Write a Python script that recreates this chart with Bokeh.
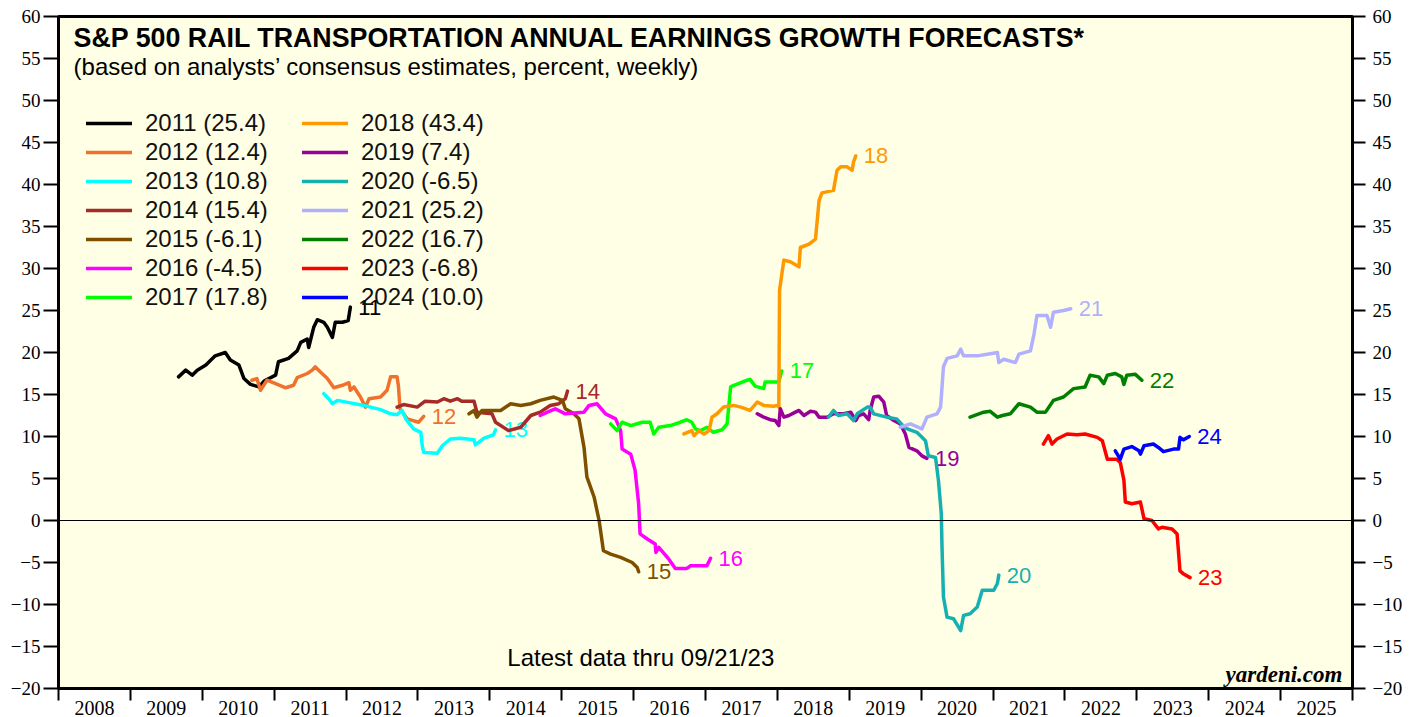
from bokeh.plotting import figure
from bokeh.models import (FixedTicker, CustomJSTickFormatter, Span, Label, Legend,
                          LegendItem, Range1d, LinearAxis)
from bokeh.core.properties import value
from bokeh.embed import file_html
from bokeh.resources import INLINE

# ---------------- data (decimal year, forecast growth %) ----------------
f2011_x = [2009.67, 2009.77, 2009.86, 2009.93, 2010.05, 2010.18, 2010.32, 2010.39, 2010.51, 2010.58,
           2010.67, 2010.79, 2010.86, 2011.02, 2011.06, 2011.20, 2011.32, 2011.37, 2011.46, 2011.48,
           2011.55, 2011.60, 2011.69, 2011.74, 2011.81, 2011.85, 2011.95, 2012.03, 2012.06]
f2011_y = [17.1, 17.9, 17.3, 17.9, 18.5, 19.6, 20.0, 19.1, 18.5, 16.9,
           16.2, 15.9, 16.6, 17.3, 18.9, 19.3, 20.2, 21.2, 21.6, 20.6,
           23.0, 23.9, 23.6, 23.0, 21.8, 23.6, 23.6, 23.8, 25.4]

f2012_x = [2010.69, 2010.76, 2010.81, 2010.90, 2011.02, 2011.16, 2011.27, 2011.32, 2011.46, 2011.53,
           2011.57, 2011.64, 2011.74, 2011.83, 2011.95, 2012.04, 2012.06, 2012.11, 2012.20, 2012.27,
           2012.32, 2012.48, 2012.57, 2012.62, 2012.71, 2012.73, 2012.75, 2012.85, 2013.01, 2013.08]
f2012_y = [16.7, 16.9, 15.5, 16.7, 16.3, 15.8, 16.1, 17.0, 17.5, 17.9,
           18.3, 17.7, 16.9, 15.8, 16.1, 16.4, 15.5, 15.9, 14.7, 13.5,
           14.5, 14.7, 15.5, 17.1, 17.1, 15.9, 13.3, 12.1, 11.7, 12.4]

f2013_x = [2011.69, 2011.76, 2011.81, 2011.88, 2012.06, 2012.25, 2012.34, 2012.48, 2012.62, 2012.71,
           2012.78, 2012.83, 2012.94, 2013.04, 2013.06, 2013.08, 2013.27, 2013.34, 2013.45, 2013.59,
           2013.78, 2013.80, 2013.92, 2014.05, 2014.08]
f2013_y = [15.1, 14.5, 13.9, 14.3, 14.0, 13.7, 13.5, 13.2, 12.7, 12.6,
           13.1, 12.1, 10.9, 10.5, 8.9, 8.1, 8.0, 8.9, 9.7, 9.8,
           9.6, 9.0, 9.8, 10.2, 10.8]

f2014_x = [2012.71, 2012.80, 2012.99, 2013.10, 2013.27, 2013.36, 2013.45, 2013.55, 2013.61, 2013.78,
           2013.82, 2014.03, 2014.08, 2014.26, 2014.43, 2014.57, 2014.70, 2014.84, 2014.96, 2015.05,
           2015.08]
f2014_y = [13.5, 13.8, 13.5, 14.2, 14.1, 14.5, 14.2, 14.5, 14.2, 14.2,
           12.9, 12.7, 11.7, 10.7, 11.1, 12.5, 12.9, 13.7, 13.9, 14.5,
           15.4]

f2015_x = [2013.71, 2013.78, 2013.82, 2013.89, 2014.05, 2014.15, 2014.29, 2014.43, 2014.57, 2014.70,
           2014.89, 2015.01, 2015.05, 2015.17, 2015.24, 2015.31, 2015.35, 2015.45, 2015.52, 2015.58,
           2015.68, 2015.82, 2015.98, 2016.05, 2016.07]
f2015_y = [12.7, 13.1, 12.3, 13.1, 13.1, 13.1, 13.9, 13.7, 13.9, 14.3,
           14.7, 14.3, 13.3, 12.7, 12.1, 8.7, 5.2, 2.8, 0.0, -3.6,
           -4.0, -4.4, -5.0, -5.6, -6.1]

f2016_x = [2014.70, 2014.80, 2014.91, 2015.05, 2015.17, 2015.31, 2015.38, 2015.49, 2015.61, 2015.75,
           2015.82, 2015.84, 2015.96, 2016.02, 2016.07, 2016.09, 2016.19, 2016.30, 2016.31, 2016.35,
           2016.49, 2016.58, 2016.74, 2016.79, 2017.02, 2017.07]
f2016_y = [12.5, 12.9, 13.3, 12.7, 12.8, 12.9, 13.7, 13.9, 12.7, 12.1,
           10.7, 8.5, 7.9, 6.0, 2.0, -1.6, -2.2, -2.8, -3.8, -3.2,
           -4.6, -5.7, -5.7, -5.4, -5.4, -4.5]

f2017_x = [2015.68, 2015.77, 2015.84, 2015.96, 2016.12, 2016.23, 2016.28, 2016.35, 2016.51, 2016.65,
           2016.74, 2016.81, 2016.86, 2016.93, 2017.02, 2017.11, 2017.23, 2017.30, 2017.35, 2017.37,
           2017.58, 2017.62, 2017.69, 2017.81, 2017.83, 2018.02, 2018.06]
f2017_y = [11.5, 10.7, 11.7, 11.3, 11.7, 11.7, 10.3, 11.1, 11.3, 11.7,
           12.0, 11.7, 10.9, 10.7, 11.1, 10.5, 10.8, 11.5, 15.9, 16.0,
           16.7, 16.8, 16.0, 15.7, 16.5, 16.5, 17.8]

f2018_x = [2016.70, 2016.81, 2016.84, 2016.91, 2016.98, 2017.05, 2017.09, 2017.16, 2017.25, 2017.39,
           2017.49, 2017.62, 2017.72, 2017.81, 2017.95, 2018.00, 2018.02, 2018.03, 2018.09, 2018.18,
           2018.30, 2018.32, 2018.44, 2018.53, 2018.58, 2018.62, 2018.78, 2018.83, 2018.88, 2018.97,
           2019.04, 2019.06, 2019.09]
f2018_y = [10.3, 10.7, 10.1, 10.7, 10.3, 10.7, 12.3, 12.7, 13.5, 13.7,
           13.5, 13.1, 14.1, 13.7, 13.6, 13.7, 13.5, 27.4, 31.0, 30.8,
           30.2, 32.5, 32.9, 33.5, 38.1, 39.0, 39.3, 41.7, 42.1, 42.1,
           41.7, 42.7, 43.4]

f2019_x = [2017.72, 2017.81, 2017.90, 2017.97, 2018.02, 2018.04, 2018.09, 2018.16, 2018.25, 2018.30,
           2018.37, 2018.46, 2018.53, 2018.58, 2018.69, 2018.78, 2018.92, 2019.02, 2019.09, 2019.13,
           2019.20, 2019.27, 2019.29, 2019.34, 2019.41, 2019.48, 2019.52, 2019.62, 2019.71, 2019.78,
           2019.83, 2019.94, 2020.01, 2020.08]
f2019_y = [12.7, 12.3, 12.0, 11.9, 11.3, 13.3, 12.3, 12.5, 12.9, 13.1,
           12.5, 13.0, 12.9, 12.3, 12.3, 12.7, 12.7, 12.9, 11.9, 12.5,
           12.7, 12.0, 13.1, 14.7, 14.8, 14.1, 12.5, 11.9, 11.5, 10.3,
           8.7, 8.3, 7.7, 7.4]

f2020_x = [2018.71, 2018.78, 2018.85, 2018.97, 2019.06, 2019.11, 2019.25, 2019.29, 2019.34, 2019.52,
           2019.66, 2019.78, 2019.94, 2020.06, 2020.10, 2020.20, 2020.24, 2020.28, 2020.29, 2020.31,
           2020.36, 2020.45, 2020.55, 2020.59, 2020.68, 2020.78, 2020.85, 2021.01, 2021.06, 2021.08]
f2020_y = [12.3, 13.1, 12.5, 12.7, 11.9, 12.7, 13.5, 13.5, 12.7, 12.3,
           12.1, 11.0, 10.5, 9.5, 7.7, 7.5, 4.8, 0.8, -3.2, -9.1,
           -11.5, -11.7, -13.1, -11.3, -11.1, -10.3, -8.3, -8.3, -7.5, -6.5]

f2021_x = [2019.71, 2019.85, 2020.01, 2020.08, 2020.22, 2020.27, 2020.31, 2020.36, 2020.50, 2020.55,
           2020.59, 2020.78, 2020.92, 2021.06, 2021.08, 2021.15, 2021.31, 2021.36, 2021.52, 2021.57,
           2021.61, 2021.75, 2021.80, 2021.84, 2021.98, 2022.08]
f2021_y = [11.1, 11.5, 10.9, 12.3, 12.7, 13.5, 18.3, 19.3, 19.6, 20.4,
           19.6, 19.6, 19.8, 20.0, 18.8, 19.2, 18.8, 19.8, 20.2, 22.2,
           24.4, 24.4, 23.0, 24.8, 25.0, 25.2]

f2022_x = [2020.68, 2020.87, 2020.96, 2021.06, 2021.13, 2021.24, 2021.36, 2021.52, 2021.61, 2021.73,
           2021.84, 2021.98, 2022.12, 2022.28, 2022.35, 2022.47, 2022.54, 2022.59, 2022.70, 2022.79,
           2022.82, 2022.86, 2022.98, 2023.07]
f2022_y = [12.3, 12.9, 13.0, 12.3, 12.5, 12.7, 13.9, 13.5, 12.9, 12.9,
           14.3, 14.7, 15.7, 15.9, 17.3, 17.1, 16.3, 17.3, 17.5, 17.1,
           16.2, 17.3, 17.4, 16.7]

f2023_x = [2021.70, 2021.77, 2021.82, 2021.89, 2022.03, 2022.17, 2022.28, 2022.45, 2022.52, 2022.59,
           2022.72, 2022.77, 2022.82, 2022.84, 2022.93, 2023.05, 2023.10, 2023.21, 2023.30, 2023.35,
           2023.49, 2023.56, 2023.60, 2023.64, 2023.74]
f2023_y = [9.1, 10.1, 9.1, 9.7, 10.3, 10.2, 10.3, 9.9, 9.5, 7.3,
           7.3, 6.9, 4.8, 2.2, 2.0, 2.2, 0.2, 0.0, -1.0, -0.8,
           -1.0, -1.6, -6.0, -6.3, -6.8]

f2024_x = [2022.70, 2022.77, 2022.82, 2022.93, 2023.03, 2023.05, 2023.10, 2023.23, 2023.30, 2023.37,
           2023.51, 2023.58, 2023.60, 2023.65, 2023.73]
f2024_y = [8.3, 7.3, 8.5, 8.8, 8.3, 7.9, 8.9, 9.1, 8.7, 8.2,
           8.5, 8.5, 9.9, 9.6, 10.0]

forecast_years = [2011, 2012, 2013, 2014, 2015, 2016, 2017,
                  2018, 2019, 2020, 2021, 2022, 2023, 2024]
series_x = [f2011_x, f2012_x, f2013_x, f2014_x, f2015_x, f2016_x, f2017_x,
            f2018_x, f2019_x, f2020_x, f2021_x, f2022_x, f2023_x, f2024_x]
series_y = [f2011_y, f2012_y, f2013_y, f2014_y, f2015_y, f2016_y, f2017_y,
            f2018_y, f2019_y, f2020_y, f2021_y, f2022_y, f2023_y, f2024_y]
colors = ["#000000", "#F0702E", "#00FFFF", "#A52A2A", "#7F4F00", "#FF00FF", "#00FF00",
          "#FF9900", "#990099", "#17B0B0", "#B0B0FF", "#008000", "#FF0000", "#0000FF"]

axis_years = list(range(2008, 2026))
y_ticks = list(range(-20, 61, 5))

SANS = "Liberation Sans"
SERIF = "Liberation Serif"

p = figure(width=1419, height=717, x_range=Range1d(2008, 2026), y_range=Range1d(-20, 60),
           output_backend="svg", toolbar_location=None,
           min_border_left=58, min_border_right=67, min_border_top=16, min_border_bottom=29)
p.background_fill_color = "#FFFFE5"
p.border_fill_color = "white"
p.outline_line_color = "black"
p.outline_line_width = 3
p.grid.visible = False

# bottom axis: labels mid-year, ticks at year boundaries
xa = p.xaxis[0]
xa.ticker = FixedTicker(ticks=[y + 0.5 for y in axis_years],
                        minor_ticks=axis_years + [axis_years[-1] + 1])
xa.formatter = CustomJSTickFormatter(code="return Math.floor(tick).toString();")
xa.major_tick_out = 0
xa.major_tick_in = 0
xa.minor_tick_out = 12
xa.minor_tick_in = 0
xa.minor_tick_line_width = 2
xa.minor_tick_line_color = "black"
xa.axis_line_color = None
xa.major_label_text_font = SERIF
xa.major_label_text_font_size = "20px"
xa.major_label_text_color = "black"
xa.major_label_standoff = 0

# left axis
ya = p.yaxis[0]
ya.ticker = FixedTicker(ticks=y_ticks)
ya.major_tick_out = 15
ya.major_tick_in = 0
ya.major_tick_line_width = 2
ya.minor_tick_out = 0
ya.axis_line_color = None
ya.major_label_text_font = SERIF
ya.major_label_text_font_size = "19px"
ya.major_label_text_color = "black"
ya.major_label_standoff = 3

# right axis
ra = LinearAxis(ticker=FixedTicker(ticks=y_ticks))
ra.major_tick_out = 13
ra.major_tick_in = 0
ra.major_tick_line_width = 2
ra.minor_tick_out = 0
ra.axis_line_color = None
ra.major_label_text_font = SERIF
ra.major_label_text_font_size = "19px"
ra.major_label_text_color = "black"
ra.major_label_standoff = 7
p.add_layout(ra, "right")

p.add_layout(Span(location=0, dimension="width", line_color="black", line_width=1))

items = []
for yr, xs, ys, c in zip(forecast_years, series_x, series_y, colors):
    r = p.line(xs, ys, line_color=c, line_width=3.5, line_join="round", line_cap="round")
    items.append(LegendItem(label=f"{yr} ({ys[-1]:.1f})", renderers=[r]))
    p.text(x=[xs[-1]], y=[ys[-1]], text=[f"{yr % 100:02d}"], x_offset=8,
           text_color=c, text_font=value(SANS), text_font_size="22px",
           text_baseline="middle", text_align="left")

for col, (lx, sl) in enumerate([(28, slice(0, 7)), (244, slice(7, 14))]):
    lg = Legend(items=items[sl], location=(lx, 377), orientation="vertical",
                label_text_font=SANS, label_text_font_size="24px", label_text_color="#111111",
                glyph_width=46, glyph_height=26, label_height=26, spacing=1,
                label_standoff=13, padding=0, margin=0,
                border_line_color=None, background_fill_alpha=0)
    p.add_layout(lg, "center")

p.add_layout(Label(x=2008.21, y=57.5, text="S&P 500 RAIL TRANSPORTATION ANNUAL EARNINGS GROWTH FORECASTS*",
                   text_font=SANS, text_font_style="bold", text_font_size="26.8px",
                   text_baseline="middle", text_color="black"))
p.add_layout(Label(x=2008.21, y=54.1, text="(based on analysts\u2019 consensus estimates, percent, weekly)",
                   text_font=SANS, text_font_size="24px", text_baseline="middle", text_color="black"))
p.add_layout(Label(x=2016.10, y=-16.3, text="Latest data thru 09/21/23",
                   text_font=SANS, text_font_size="24px", text_baseline="middle",
                   text_align="center", text_color="black"))
p.add_layout(Label(x=2025.86, y=-18.3, text="yardeni.com",
                   text_font=SERIF, text_font_style="bold italic", text_font_size="23px",
                   text_baseline="middle", text_align="right", text_color="black"))

open("out.html", "w").write(file_html(p, INLINE))
